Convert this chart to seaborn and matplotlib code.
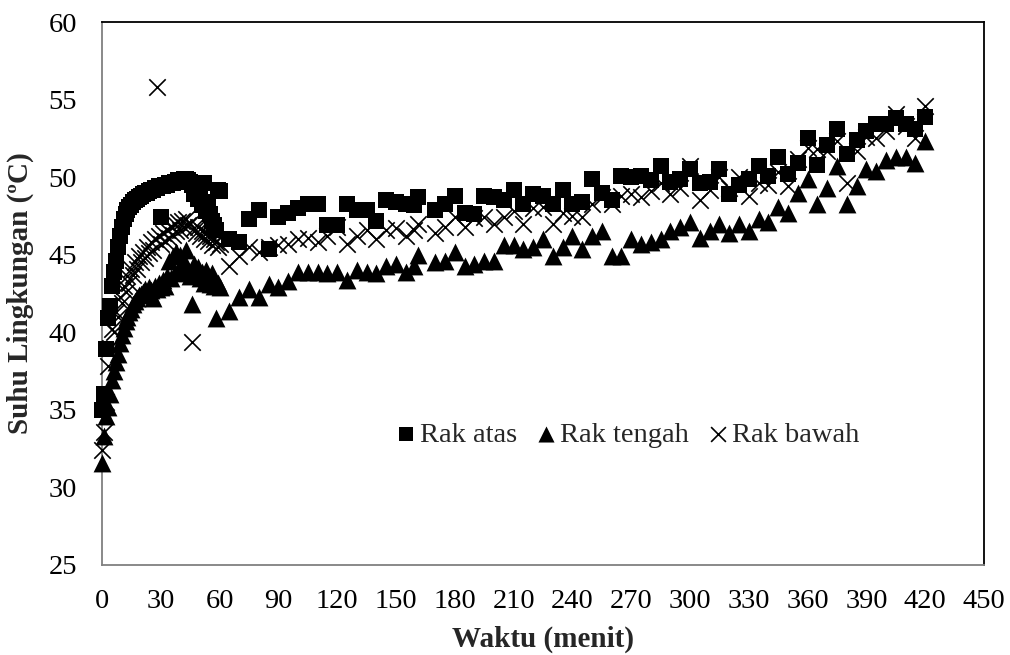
import matplotlib
matplotlib.use("Agg")
import matplotlib.pyplot as plt
import seaborn as sns
import pandas as pd

waktu = [0, 1, 2, 3, 4, 5, 6, 7, 8, 9,
         10, 11, 12, 13, 14, 15, 16, 17, 18, 19,
         20, 21, 22, 23, 24, 25, 26, 27, 28, 29,
         30, 31, 32, 33, 34, 35, 36, 37, 38, 39,
         40, 41, 42, 43, 44, 45, 46, 47, 48, 49,
         50, 51, 52, 53, 54, 55, 56, 57, 58, 59, 60,
         65, 70, 75, 80, 85, 90, 95, 100, 105, 110,
         115, 120, 125, 130, 135, 140, 145, 150, 155, 159,
         161, 170, 175, 180, 185, 190, 195, 200, 205, 210,
         215, 220, 225, 230, 235, 240, 245, 250, 255, 260,
         265, 270, 275, 280, 285, 290, 295, 300, 305, 310,
         315, 320, 325, 330, 335, 340, 345, 350, 355, 360,
         365, 370, 375, 380, 385, 390, 395, 400, 405, 410,
         415, 420]

rak_atas = [35.0, 36.0, 38.9, 40.9, 41.7, 43.0, 43.9, 44.6, 45.5, 46.2,
            46.8, 47.3, 47.6, 47.9, 48.1, 48.2, 48.4, 48.5, 48.6, 48.7,
            48.8, 48.9, 49.0, 49.0, 49.1, 49.2, 49.2, 49.3, 49.3, 49.4,
            47.4, 49.4, 49.5, 49.5, 49.6, 49.6, 49.6, 49.7, 49.7, 49.8,
            49.8, 49.8, 49.9, 49.9, 49.8, 49.7, 49.5, 48.9, 49.6, 48.6,
            49.4, 48.2, 49.6, 47.8, 48.4, 47.6, 47.2, 46.9, 46.6, 49.2, 49.1,
            46.0, 45.8, 47.3, 47.9, 45.4, 47.4, 47.7, 48.0, 48.3, 48.3,
            46.9, 46.9, 48.3, 47.9, 47.9, 47.2, 48.5, 48.4, 48.3, 48.2,
            48.7, 47.9, 48.3, 48.8, 47.7, 47.6, 48.8, 48.7, 48.5, 49.2,
            48.3, 48.9, 48.8, 48.3, 49.2, 48.3, 48.4, 49.9, 49.0, 48.5,
            50.1, 50.0, 50.1, 49.8, 50.7, 49.7, 49.9, 50.5, 49.6, 49.7,
            50.5, 48.9, 49.5, 49.9, 50.7, 50.1, 51.3, 50.2, 50.9, 52.5,
            50.8, 52.1, 53.1, 51.5, 52.4, 53.0, 53.4, 53.4, 53.8, 53.4,
            53.1, 53.9]

rak_tengah = [31.6, 33.3, 34.6, 35.2, 36.0, 36.9, 37.5, 38.1, 38.6, 39.3,
              39.8, 40.3, 40.7, 41.0, 41.3, 41.5, 41.8, 42.0, 42.2, 42.4,
              42.5, 42.6, 42.8, 42.5, 42.9, 42.7, 42.2, 43.0, 42.8, 43.2,
              42.9, 43.4, 43.0, 43.6, 44.6, 43.5, 44.9, 43.8, 45.2, 44.0,
              45.0, 43.9, 44.6, 45.3, 44.0, 43.6, 41.8, 44.4, 43.8, 44.2,
              43.5, 43.9, 43.2, 44.0, 43.4, 43.1, 43.8, 43.0, 40.9, 43.2, 42.9,
              41.4, 42.3, 42.8, 42.3, 43.1, 42.9, 43.3, 43.9, 43.9, 43.9,
              43.8, 43.9, 43.4, 44.0, 43.9, 43.8, 44.3, 44.4, 43.9, 44.3,
              45.0, 44.5, 44.6, 45.2, 44.3, 44.4, 44.6, 44.6, 45.6, 45.6,
              45.4, 45.5, 46.0, 44.9, 45.5, 46.2, 45.4, 46.2, 46.5, 44.9,
              44.9, 46.0, 45.7, 45.8, 46.0, 46.5, 46.8, 47.1, 46.1, 46.5,
              47.0, 46.4, 47.0, 46.5, 47.3, 47.1, 48.1, 47.7, 49.0, 49.9,
              48.3, 49.3, 50.7, 48.3, 49.4, 50.5, 50.4, 51.1, 51.3, 51.3,
              50.9, 52.3]

rak_bawah = [32.4, 33.6, 35.5, 37.8, 39.0, 40.2, 40.0, 41.3, 41.0, 42.3,
             41.9, 43.0, 42.6, 43.6, 43.2, 44.1, 43.7, 44.5, 44.1, 44.9,
             44.5, 45.2, 44.8, 45.5, 45.1, 45.8, 45.3, 46.0, 55.8, 46.2,
             45.7, 46.4, 45.9, 46.6, 46.1, 46.8, 46.3, 47.0, 46.5, 47.1,
             46.6, 47.2, 46.8, 47.3, 46.9, 47.0, 39.4, 46.7, 46.4, 46.8,
             46.2, 46.5, 46.0, 46.4, 45.9, 46.2, 45.6, 46.0, 45.8, 45.5, 45.7,
             44.3, 44.9, 45.5, 45.2, 45.5, 45.6, 45.7, 46.0, 46.1, 45.85,
             46.2, 46.8, 45.7, 46.2, 46.6, 46.0, 46.6, 46.7, 46.2, 46.6,
             47.0, 46.4, 46.8, 47.45, 46.8, 47.35, 47.45, 47.0, 47.45, 47.8,
             47.0, 48.0, 48.1, 47.0, 47.7, 47.5, 47.45, 48.3, 48.7, 48.3,
             48.8, 48.9, 48.7, 49.1, 49.6, 48.9, 49.3, 50.7, 48.5, 49.2,
             50.0, 49.3, 50.0, 48.8, 49.6, 49.5, 50.3, 49.4, 51.2, 51.9,
             51.8, 51.7, 52.3, 49.6, 51.7, 52.6, 52.5, 53.0, 54.1, 53.3,
             52.5, 54.6]

series_names = ["Rak atas", "Rak tengah", "Rak bawah"]
x_ticks = [0, 30, 60, 90, 120, 150, 180, 210, 240, 270, 300, 330, 360, 390, 420, 450]
y_ticks = [25, 30, 35, 40, 45, 50, 55, 60]

sns.set_theme(style="white")
plt.rcParams["font.family"] = ["Liberation Serif", "DejaVu Serif"]

df = pd.DataFrame({"Waktu": waktu, "Rak atas": rak_atas,
                   "Rak tengah": rak_tengah, "Rak bawah": rak_bawah})

fig = plt.figure(figsize=(10.1, 6.55), dpi=100)
ax = fig.add_axes([102 / 1010, 1 - 565 / 655, 882 / 1010, 543 / 655])

styles = {
    "Rak atas": dict(marker="s", s=135, linewidth=0),
    "Rak tengah": dict(marker="^", s=165, linewidth=0),
    "Rak bawah": dict(marker="x", s=140, linewidth=1.2),
}
for name in series_names:
    sns.scatterplot(data=df, x="Waktu", y=name, ax=ax, color="black",
                    label=name, clip_on=False, zorder=3, **styles[name])

ax.set_xlim(0, 450)
ax.set_ylim(25, 60)
ax.set_xticks(x_ticks)
ax.set_yticks(y_ticks)
ax.tick_params(axis="both", direction="in", colors="#808080", labelcolor="black",
               labelsize=20.5, width=1.2)
ax.tick_params(axis="x", length=6, pad=17)
ax.tick_params(axis="y", length=4, pad=18)

for side in ["left", "bottom"]:
    ax.spines[side].set_color("#808080")
    ax.spines[side].set_linewidth(1.3)
for side in ["top", "right"]:
    ax.spines[side].set_color("black")
    ax.spines[side].set_linewidth(1.3)

ax.set_xlabel("Waktu (menit)", fontsize=21, fontweight="bold")
ax.set_ylabel("Suhu Lingkungan (ºC)", fontsize=21, fontweight="bold")
ax.xaxis.set_label_coords(0.5, -0.112)
ax.yaxis.set_label_coords(-0.077, 0.5)

ax.legend(loc="center", bbox_to_anchor=(0.596, 0.24), ncol=3, frameon=False,
          fontsize=20.5, handlelength=0.7, handletextpad=0.15, columnspacing=0.65,
          borderpad=0.2, markerscale=0.9)

fig.savefig("out.png", dpi=100)
